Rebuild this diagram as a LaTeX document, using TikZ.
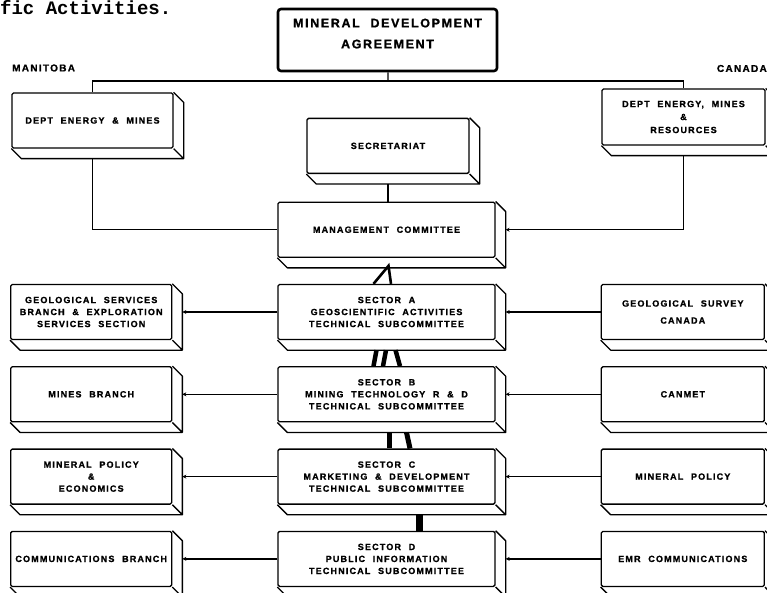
\documentclass[tikz,border=0pt]{standalone}
\usepackage{fontspec}
\usetikzlibrary{arrows.meta,positioning}

\newfontfamily\chartfont[LetterSpace=13,WordSpace=2.1,BoldFeatures={FakeBold=1.2}]{Liberation Sans}
\newfontfamily\typedfont{Liberation Mono}
\newcommand{\boxtext}{\chartfont\bfseries\fontsize{9}{12}\selectfont}
\newcommand{\bigtext}{\chartfont\bfseries\fontsize{12.5}{21}\selectfont}

% the two hidden faces of a raised box
\newcommand{\slabsides}[1]{%
  \draw[rim] (#1.north east) -- ++(10pt,-10pt) -- ([shift={(10pt,-10pt)}]#1.south east)
    -- ([shift={(10pt,-10pt)}]#1.south west) -- (#1.south west)
    (#1.south east) -- ++(10pt,-10pt);}

\begin{document}
\begin{tikzpicture}[x=1pt, y=-1pt, node distance=26pt and 105pt,
    rim/.style={line width=1.3pt, line join=round},
    panel/.style={draw, rim, rounded corners=1.5pt, minimum width=161pt,
      minimum height=55pt, align=center, inner sep=2pt, font=\boxtext},
    wide panel/.style={panel, minimum width=217pt},
    side label/.style={inner sep=0pt, font=\chartfont\bfseries\fontsize{10}{10}\selectfont},
    link/.style={line width=1.2pt},
    tip/.style={-{Stealth[length=4pt,width=4pt]}},
    heavy/.style={line width=4.5pt}]
  \useasboundingbox (0,0) rectangle (767,593);
  \clip (0,0) rectangle (767,593);

  \node[anchor=base west, inner sep=0pt, font=\typedfont\bfseries\fontsize{19}{20}\selectfont]
    (title) at (0,15) {fic Activities.};

  \node[draw, line width=2.6pt, rounded corners=3pt, minimum width=219pt, minimum height=62pt,
    align=center, font=\bigtext] (mda) at (387.5,40) {MINERAL DEVELOPMENT\\AGREEMENT\\[-8pt]\mbox{}};
  \node[side label, anchor=west] (manitoba) at (12,68) {MANITOBA};
  \node[side label, anchor=east] (canada) at (767,68.5) {CANADA};

  \node[panel] (dem) at (92.5,120.5) {DEPT ENERGY \& MINES};
  \node[panel, minimum width=163pt, minimum height=56pt] (demr) at (683.5,117)
    {DEPT ENERGY, MINES\\[1pt]\&\\[1pt]RESOURCES};

  % central column
  \node[wide panel] (secA) at (386.5,312) {SECTOR A\\GEOSCIENTIFIC ACTIVITIES\\TECHNICAL SUBCOMMITTEE};
  \node[wide panel] (mgmt) [above=of secA] {MANAGEMENT COMMITTEE};
  \node[panel, minimum width=162pt] (secr) [above=of mgmt, xshift=1.5pt, yshift=1.5pt] {SECRETARIAT};
  \node[wide panel] (secB) [below=of secA] {SECTOR B\\MINING TECHNOLOGY R \& D\\TECHNICAL SUBCOMMITTEE};
  \node[wide panel] (secC) [below=of secB] {SECTOR C\\MARKETING \& DEVELOPMENT\\TECHNICAL SUBCOMMITTEE};
  \node[wide panel] (secD) [below=of secC] {SECTOR D\\PUBLIC INFORMATION\\TECHNICAL SUBCOMMITTEE};

  % Manitoba side
  \node[panel] (geo) [left=of secA] {GEOLOGICAL SERVICES\\BRANCH \& EXPLORATION\\SERVICES SECTION};
  \node[panel] (mines) [left=of secB] {MINES BRANCH};
  \node[panel] (mpe) [left=of secC] {MINERAL POLICY\\\&\\ECONOMICS};
  \node[panel] (comm) [left=of secD] {COMMUNICATIONS BRANCH};

  % Canada side
  \node[panel, minimum width=163pt] (gsc) [right=of secA] {GEOLOGICAL SURVEY\\[5pt]CANADA};
  \node[panel, minimum width=163pt] (canmet) [right=of secB] {CANMET};
  \node[panel, minimum width=163pt] (mp) [right=of secC] {MINERAL POLICY};
  \node[panel, minimum width=163pt] (emr) [right=of secD] {EMR COMMUNICATIONS};

  \foreach \n in {dem,demr,secr,mgmt,secA,secB,secC,secD,geo,mines,mpe,comm,gsc,canmet,mp,emr}
    {\slabsides{\n}}

  \coordinate (bus) at (388,81);
  \draw[link] (mda) -- (bus);
  \draw[link] (dem.north) |- (bus) -| (demr.north);
  \draw[link] ([yshift=-10pt]secr.south) -- (mgmt.north -| secr.south);
  \draw[link] ([yshift=-10pt]dem.south) |- (mgmt.west);
  \draw[link, tip] ([yshift=-10pt]demr.south) |- ([xshift=10pt]mgmt.east);

  \draw[link, tip] (secA.west) -- ([xshift=10pt]geo.east);
  \draw[link, tip] (secB.west) -- ([xshift=10pt]mines.east);
  \draw[link, tip] (secC.west) -- ([xshift=10pt]mpe.east);
  \draw[link, tip] (secD.west) -- ([xshift=10pt]comm.east);
  \draw[link, tip] (gsc.west) -- ([xshift=10pt]secA.east);
  \draw[link, tip] (canmet.west) -- ([xshift=10pt]secB.east);
  \draw[link, tip] (mp.west) -- ([xshift=10pt]secC.east);
  \draw[link, tip] (emr.west) -- ([xshift=10pt]secD.east);

  % heavy ties between the sectors
  \draw[heavy, line width=2.6pt, line join=miter] ([xshift=-13pt]secA.north)
    -- ([xshift=2pt,yshift=-8pt]mgmt.south) -- ([xshift=4.5pt]secA.north);
  \draw[heavy] ([xshift=-13pt]secB.north) -- ([xshift=-10pt,yshift=-10pt]secA.south);
  \draw[heavy] ([xshift=-3.5pt]secB.north) -- ([xshift=-0.5pt,yshift=-10pt]secA.south);
  \draw[heavy] ([xshift=13.5pt]secB.north) -- ([xshift=9pt,yshift=-10pt]secA.south);
  \draw[heavy, line width=5pt] ([xshift=3pt]secC.north) -- ([xshift=3pt,yshift=-10pt]secB.south);
  \draw[heavy, line width=5pt] ([xshift=23.5pt]secC.north) -- ([xshift=20pt,yshift=-10pt]secB.south);
  \draw[heavy, line width=7pt] ([xshift=32.5pt]secD.north) -- ([xshift=32.5pt,yshift=-10pt]secC.south);
\end{tikzpicture}
\end{document}
